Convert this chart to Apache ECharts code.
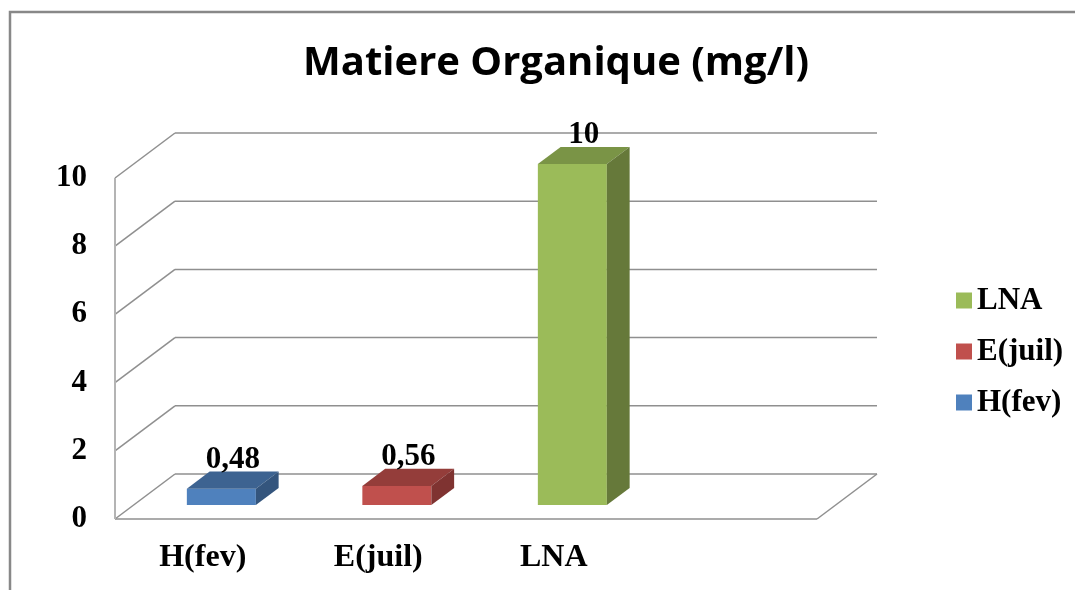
<!DOCTYPE html>
<html>
<head>
<meta charset="utf-8">
<script src="https://cdn.jsdelivr.net/npm/echarts@6/dist/echarts.min.js"></script>
<style>
  html, body { margin: 0; padding: 0; background: #fff; }
  #chart { width: 1075px; height: 590px; }
</style>
</head>
<body>
<div id="chart"></div>
<script>
// chart data
const categories = ["H(fev)", "E(juil)", "LNA"];
const values = [0.48, 0.56, 10];
const yTicks = [0, 2, 4, 6, 8, 10];
const legendOrder = ["LNA", "E(juil)", "H(fev)"];

// face colours per bar: front, top, side
const frontColors = ["#4F81BD", "#C0504D", "#9BBB59"];
const topColors = ["#3D6391", "#943D3A", "#7A9446"];
const sideColors = ["#34557D", "#7F3331", "#66793A"];

// pseudo 3d geometry (pixels)
const DEPTH = [60, -45];   // front wall -> back wall
const BAR_FRONT = 0.31;    // bar front face, as share of the depth
const BAR_BACK = 0.69;
const BAR_W = 69;
const LABEL_FONT = "bold 31px 'Liberation Serif'";
const LINE = "#8f8f8f";

const chart = echarts.init(document.getElementById("chart"), null, { renderer: "canvas" });

function fmt(v) {
  return String(v).replace(".", ",");
}

// back wall, left wall and floor lines
function renderWalls(params, api) {
  const cs = params.coordSys;
  const v = api.value(0);
  const p = api.coord([0, v]);
  const y = p[1];
  const x0 = cs.x;
  const x1 = cs.x + cs.width;
  const [dx, dy] = DEPTH;
  const children = [
    { type: "line", shape: { x1: x0, y1: y, x2: x0 + dx, y2: y + dy }, style: { stroke: LINE, lineWidth: 1.5 } },
    { type: "line", shape: { x1: x0 + dx, y1: y + dy, x2: x1 + dx, y2: y + dy }, style: { stroke: LINE, lineWidth: 1.5 } }
  ];
  if (v === 0) {
    children.push(
      { type: "line", shape: { x1: x0, y1: y, x2: x1, y2: y }, style: { stroke: LINE, lineWidth: 1.5 } },
      { type: "line", shape: { x1: x1, y1: y, x2: x1 + dx, y2: y + dy }, style: { stroke: LINE, lineWidth: 1.5 } }
    );
  }
  if (v === yTicks[yTicks.length - 1]) {
    children.push({ type: "line", shape: { x1: x0, y1: y, x2: x0, y2: cs.y + cs.height }, style: { stroke: "#b4b4b4", lineWidth: 2 } });
  }
  return { type: "group", children };
}

function renderBar(params, api) {
  const i = api.value(0);
  const v = api.value(1);
  const base = api.coord([i, 0]);
  const top = api.coord([i, v]);
  const ox = DEPTH[0] * BAR_FRONT, oy = DEPTH[1] * BAR_FRONT;
  const dx = DEPTH[0] * (BAR_BACK - BAR_FRONT), dy = DEPTH[1] * (BAR_BACK - BAR_FRONT);
  const cx = base[0] + ox;
  const yb = base[1] + oy;
  const yt = top[1] + oy;
  const l = cx - BAR_W / 2, r = cx + BAR_W / 2;
  return {
    type: "group",
    children: [
      { type: "polygon", shape: { points: [[l, yb], [r, yb], [r, yt], [l, yt]] }, style: { fill: frontColors[i] } },
      { type: "polygon", shape: { points: [[l, yt], [r, yt], [r + dx, yt + dy], [l + dx, yt + dy]] }, style: { fill: topColors[i] } },
      { type: "polygon", shape: { points: [[r, yb], [r, yt], [r + dx, yt + dy], [r + dx, yb + dy]] }, style: { fill: sideColors[i] } },
      {
        type: "text",
        style: {
          text: fmt(v), x: cx + dx / 2, y: yt - 29,
          align: "center", verticalAlign: "middle",
          font: LABEL_FONT, fill: "#000"
        }
      }
    ]
  };
}

const barSeries = categories.map((name, i) => ({
  type: "custom",
  name: name,
  renderItem: renderBar,
  itemStyle: { color: frontColors[i] },
  data: [[i, values[i]]],
  z: 3
}));

const option = {
  animation: false,
  backgroundColor: "#fff",
  title: {
    text: "Matiere Organique (mg/l)",
    left: 551,
    top: 39,
    textAlign: "center",
    textStyle: { fontFamily: "Open Sans", fontWeight: "bold", fontSize: 40, color: "#000" }
  },
  legend: {
    data: legendOrder,
    orient: "vertical",
    left: 951,
    top: 280,
    icon: "rect",
    itemWidth: 16,
    itemHeight: 16,
    itemGap: 20,
    textStyle: { fontFamily: "Liberation Serif", fontWeight: "bold", fontSize: 31, color: "#000" }
  },
  grid: { left: 115, top: 178, width: 702, height: 341 },
  xAxis: {
    type: "category",
    data: categories.concat([""]),
    axisLine: { show: false },
    axisTick: { show: false },
    axisLabel: { margin: 23, fontFamily: "Liberation Serif", fontWeight: "bold", fontSize: 32, color: "#000" },
    splitLine: { show: false }
  },
  yAxis: {
    type: "value",
    min: 0,
    max: 10,
    interval: 2,
    axisLine: { show: false },
    axisTick: { show: false },
    splitLine: { show: false },
    axisLabel: { margin: 28, fontFamily: "Liberation Serif", fontWeight: "bold", fontSize: 31, color: "#000" }
  },
  graphic: [
    { type: "rect", shape: { x: 10, y: 12, width: 1100, height: 620 }, style: { fill: "none", stroke: "#888", lineWidth: 2.5 }, silent: true }
  ],
  series: [
    {
      type: "custom",
      name: "walls",
      renderItem: renderWalls,
      data: yTicks.map((t) => [t]),
      silent: true,
      z: 1
    }
  ].concat(barSeries)
};

chart.setOption(option);
</script>
</body>
</html>
